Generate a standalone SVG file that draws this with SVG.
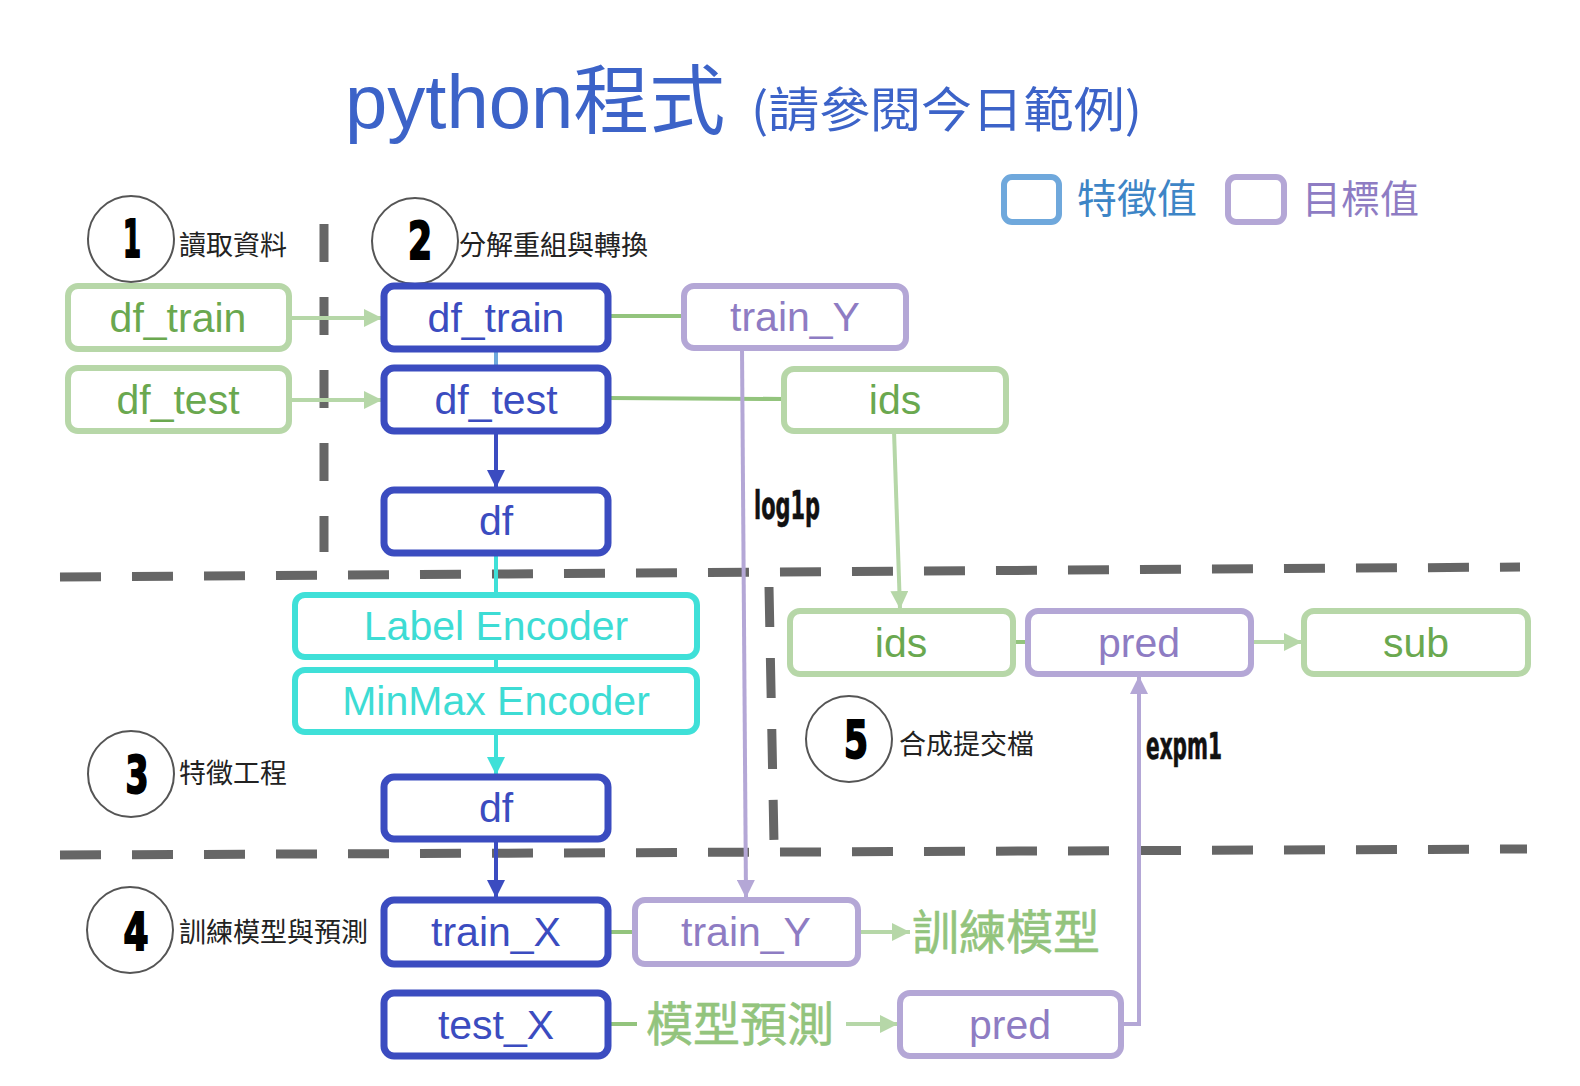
<svg xmlns="http://www.w3.org/2000/svg" width="1580" height="1086" viewBox="0 0 1580 1086">
<defs>
<style>
.nb{fill:#fff;stroke:#3b4cc0;stroke-width:7}
.ng{fill:#fff;stroke:#b7d7a8;stroke-width:6}
.np{fill:#fff;stroke:#b4a7d6;stroke-width:6}
.nc{fill:#fff;stroke:#3fe0d8;stroke-width:6}
.t{font-family:"Liberation Sans",Arial,sans-serif;font-size:41px;text-anchor:middle}
.tb{fill:#3b4cc0}.tg{fill:#6aa84f}.tp{fill:#8e7cc3}.tc{fill:#3ddcd4}
.cj{font-family:"Noto Sans CJK TC","Noto Sans CJK SC",sans-serif}
.lab{font-family:"Noto Sans CJK TC",sans-serif;font-size:27px;fill:#222}
.num{font-family:"DejaVu Sans Condensed","DejaVu Sans",sans-serif;font-weight:bold;font-size:52px;fill:#000;stroke:#000;stroke-width:2;text-anchor:middle}
.fx{font-family:"DejaVu Sans Condensed","DejaVu Sans",sans-serif;font-weight:bold;fill:#111;stroke:#111;stroke-width:0.6}
.big{font-size:47px;fill:#93c47d;stroke:#93c47d;stroke-width:0.6}
.circ{fill:#fff;stroke:#555;stroke-width:2}
.dash{fill:none;stroke:#666;stroke-width:9}
.c{fill:none;stroke-width:4}
</style>
<marker id="ag" markerUnits="userSpaceOnUse" markerWidth="18" markerHeight="18" viewBox="0 0 10 10" refX="10" refY="5" orient="auto"><path d="M0,0 L10,5 L0,10 z" fill="#b6d7a8"/></marker>
<marker id="ab" markerUnits="userSpaceOnUse" markerWidth="18" markerHeight="18" viewBox="0 0 10 10" refX="10" refY="5" orient="auto"><path d="M0,0 L10,5 L0,10 z" fill="#3b4cc0"/></marker>
<marker id="ac" markerUnits="userSpaceOnUse" markerWidth="18" markerHeight="18" viewBox="0 0 10 10" refX="10" refY="5" orient="auto"><path d="M0,0 L10,5 L0,10 z" fill="#3fe0d8"/></marker>
<marker id="ap" markerUnits="userSpaceOnUse" markerWidth="18" markerHeight="18" viewBox="0 0 10 10" refX="10" refY="5" orient="auto"><path d="M0,0 L10,5 L0,10 z" fill="#b4a7d6"/></marker>
</defs>
<rect width="1580" height="1086" fill="#fff"/>

<g id="title">
<text x="345" y="128" font-family="Liberation Sans, Noto Sans CJK TC, sans-serif" font-size="76" fill="#3c63c8">python<tspan class="cj">程式</tspan></text>
<text x="751" y="127" class="cj" font-size="48" fill="#3c63c8" textLength="391" lengthAdjust="spacingAndGlyphs">(請參閱今日範例)</text>
</g>

<g id="legend">
<rect x="1004" y="177" width="55" height="45" rx="8" fill="#fff" stroke="#6fa8dc" stroke-width="6"/>
<text x="1077" y="213" class="cj" font-size="40" fill="#3d85c6">特徵值</text>
<rect x="1228" y="177" width="56" height="45" rx="8" fill="#fff" stroke="#b4a7d6" stroke-width="6"/>
<text x="1302" y="213" class="cj" font-size="39" fill="#8e7cc3">目標值</text>
</g>

<g id="separators">
<path class="dash" d="M324,224 V552" stroke-dasharray="38 35"/>
<path class="dash" d="M60,577 L1520,567" stroke-dasharray="41 31"/>
<path class="dash" d="M60,855 L1527,849" stroke-dasharray="41 31"/>
<path class="dash" d="M769,587 L774,843" stroke-dasharray="40 31"/>
</g>

<g id="connectors">
<path class="c" d="M290,318 H382" stroke="#b6d7a8" marker-end="url(#ag)"/>
<path class="c" d="M290,400 H382" stroke="#b6d7a8" marker-end="url(#ag)"/>
<path class="c" d="M496,349 V368" stroke="#6fa8dc" stroke-width="3"/>
<path class="c" d="M608,316 H684" stroke="#93c47d"/>
<path class="c" d="M608,398 L784,399" stroke="#93c47d"/>
<path class="c" d="M496,431 V488" stroke="#3b4cc0" marker-end="url(#ab)"/>
<path class="c" d="M496,553 V595" stroke="#3fe0d8" stroke-width="3"/>
<path class="c" d="M496,657 V670" stroke="#3fe0d8" stroke-width="3"/>
<path class="c" d="M496,732 V775" stroke="#3fe0d8" marker-end="url(#ac)"/>
<path class="c" d="M496,839 V898" stroke="#3b4cc0" marker-end="url(#ab)"/>
<path class="c" d="M742,348 L746,898" stroke="#b4a7d6" marker-end="url(#ap)"/>
<path class="c" d="M894,431 L900,609" stroke="#b6d7a8" marker-end="url(#ag)"/>
<path class="c" d="M1013,642 H1028" stroke="#93c47d"/>
<path class="c" d="M1251,642 H1302" stroke="#b6d7a8" marker-end="url(#ag)"/>
<path class="c" d="M608,932 H635" stroke="#93c47d"/>
<path class="c" d="M858,932 H910" stroke="#b6d7a8" marker-end="url(#ag)"/>
<path class="c" d="M608,1024 H637" stroke="#93c47d"/>
<path class="c" d="M846,1024 H898" stroke="#b6d7a8" marker-end="url(#ag)"/>
<path class="c" d="M1121,1024 H1139 V676" stroke="#b4a7d6" marker-end="url(#ap)"/>
<text class="fx" x="754" y="519" font-size="39" textLength="66" lengthAdjust="spacingAndGlyphs">log1p</text>
<text class="fx" x="1146" y="759" font-size="37" textLength="76" lengthAdjust="spacingAndGlyphs">expm1</text>
<text x="912" y="949" class="cj big">訓練模型</text>
<text x="646" y="1041" class="cj big">模型預測</text>
</g>

<g id="step1"><circle class="circ" cx="131" cy="239" r="43"/><text class="num" x="132" y="257" textLength="18" lengthAdjust="spacingAndGlyphs">1</text><text class="lab" x="179" y="255">讀取資料</text></g>
<g id="step2"><circle class="circ" cx="415" cy="241" r="43"/><text class="num" x="420" y="259" textLength="24" lengthAdjust="spacingAndGlyphs">2</text><text class="lab" x="459" y="255">分解重組與轉換</text></g>
<g id="step3"><circle class="circ" cx="131" cy="774" r="43"/><text class="num" x="137" y="793" textLength="23" lengthAdjust="spacingAndGlyphs">3</text><text class="lab" x="179" y="783">特徵工程</text></g>
<g id="step4"><circle class="circ" cx="130" cy="930" r="43"/><text class="num" x="136" y="950" textLength="25" lengthAdjust="spacingAndGlyphs">4</text><text class="lab" x="179" y="942">訓練模型與預測</text></g>
<g id="step5"><circle class="circ" cx="849" cy="739" r="43"/><text class="num" x="856" y="758" textLength="24" lengthAdjust="spacingAndGlyphs">5</text><text class="lab" x="899" y="754">合成提交檔</text></g>

<g id="src_df_train"><rect class="ng" x="68" y="286" width="221" height="63" rx="10"/><text class="t tg" x="178" y="332">df_train</text></g>
<g id="src_df_test"><rect class="ng" x="68" y="368" width="221" height="63" rx="10"/><text class="t tg" x="178" y="414">df_test</text></g>
<g id="df_train"><rect class="nb" x="384" y="286" width="224" height="63" rx="10"/><text class="t tb" x="496" y="332">df_train</text></g>
<g id="df_test"><rect class="nb" x="384" y="368" width="224" height="63" rx="10"/><text class="t tb" x="496" y="414">df_test</text></g>
<g id="df1"><rect class="nb" x="384" y="490" width="224" height="63" rx="10"/><text class="t tb" x="496" y="535">df</text></g>
<g id="train_Y_top"><rect class="np" x="684" y="286" width="222" height="62" rx="10"/><text class="t tp" x="795" y="331">train_Y</text></g>
<g id="ids_top"><rect class="ng" x="784" y="369" width="222" height="62" rx="10"/><text class="t tg" x="895" y="414">ids</text></g>
<g id="label_encoder"><rect class="nc" x="295" y="595" width="402" height="62" rx="10"/><text class="t tc" x="496" y="640">Label Encoder</text></g>
<g id="minmax_encoder"><rect class="nc" x="295" y="670" width="402" height="62" rx="10"/><text class="t tc" x="496" y="715">MinMax Encoder</text></g>
<g id="df2"><rect class="nb" x="384" y="777" width="224" height="62" rx="10"/><text class="t tb" x="496" y="822">df</text></g>
<g id="ids_bottom"><rect class="ng" x="790" y="611" width="223" height="63" rx="10"/><text class="t tg" x="901" y="657">ids</text></g>
<g id="pred_top"><rect class="np" x="1028" y="611" width="223" height="63" rx="10"/><text class="t tp" x="1139" y="657">pred</text></g>
<g id="sub"><rect class="ng" x="1304" y="611" width="224" height="63" rx="10"/><text class="t tg" x="1416" y="657">sub</text></g>
<g id="train_X"><rect class="nb" x="384" y="900" width="224" height="64" rx="10"/><text class="t tb" x="496" y="946">train_X</text></g>
<g id="train_Y_bottom"><rect class="np" x="635" y="900" width="223" height="64" rx="10"/><text class="t tp" x="746" y="946">train_Y</text></g>
<g id="test_X"><rect class="nb" x="384" y="993" width="224" height="63" rx="10"/><text class="t tb" x="496" y="1039">test_X</text></g>
<g id="pred_bottom"><rect class="np" x="900" y="993" width="221" height="63" rx="10"/><text class="t tp" x="1010" y="1039">pred</text></g>
</svg>
